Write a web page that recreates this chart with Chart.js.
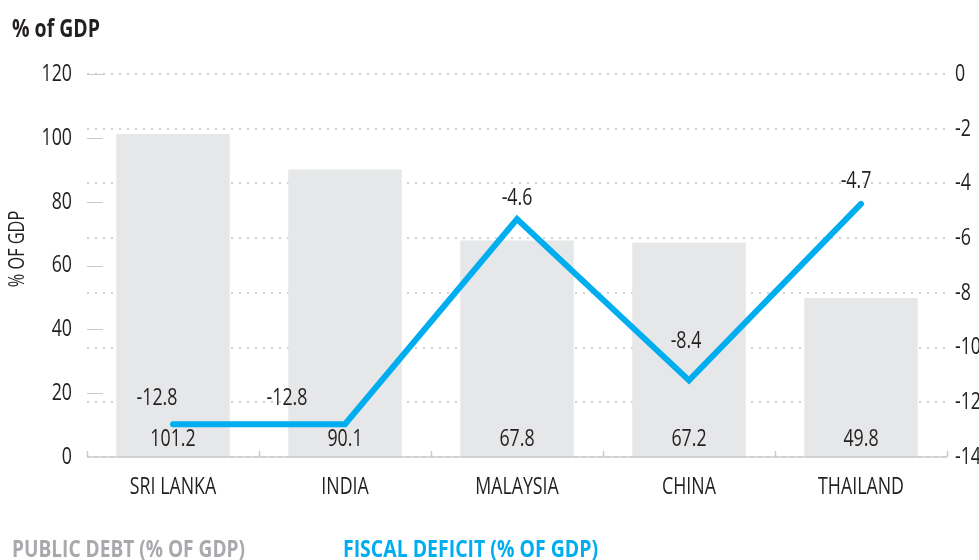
<!DOCTYPE html>
<html>
<head>
<meta charset="utf-8">
<script src="https://cdn.jsdelivr.net/npm/chart.js@4"></script>
<style>
  html, body { margin: 0; padding: 0; background: #fff; }
  #wrap { position: relative; width: 979px; height: 560px; }
</style>
</head>
<body>
<div id="wrap"><canvas id="chart" width="979" height="560"></canvas></div>
<script>
// Chart data
const countries = ["SRI LANKA", "INDIA", "MALAYSIA", "CHINA", "THAILAND"];
const publicDebt = [101.2, 90.1, 67.8, 67.2, 49.8];
// where the line is drawn in the picture, and the labels printed next to it
const fiscalDeficit = [-12.8, -12.8, -5.3, -11.2, -4.75];
const deficitLabels = ["-12.8", "-12.8", "-4.6", "-8.4", "-4.7"];
const debtTicks = [0, 20, 40, 60, 80, 100, 120];
const deficitTicks = [0, -2, -4, -6, -8, -10, -12, -14];

// label offsets from each line point (style, not data)
const labelDx = [-16, -58, 0, -3, -5];
const labelDy = [-26, -26, -21, -39, -23];

const FONT = "'Open Sans', 'Noto Sans', sans-serif";
const TEXT = "#231f20";
const BLUE = "#00aeef";
const GREY_BAR = "#e6e7e8";
const SQUEEZE = 0.74; // the original uses a condensed face

// draw text squeezed horizontally around its anchor
function squeezed(ctx, str, x, y, align, font, color) {
  ctx.save();
  ctx.font = font;
  ctx.fillStyle = color;
  ctx.textAlign = align;
  ctx.textBaseline = "middle";
  ctx.translate(x, y);
  ctx.scale(SQUEEZE, 1);
  ctx.fillText(str, 0, 0);
  ctx.restore();
}

const decor = {
  id: "decor",
  afterDraw(chart) {
    const ctx = chart.ctx;
    const area = chart.chartArea;
    const x = chart.scales.x;
    const y = chart.scales.y;
    const y1 = chart.scales.y1;
    const reg = "24px " + FONT;
    ctx.save();

    // x axis line with small upward ticks between categories
    ctx.strokeStyle = "#c9cacb";
    ctx.lineWidth = 1.5;
    ctx.beginPath();
    ctx.moveTo(area.left, area.bottom);
    ctx.lineTo(area.right, area.bottom);
    const step = (area.right - area.left) / countries.length;
    for (let i = 0; i <= countries.length; i++) {
      const px = Math.round(area.left + step * i) + 0.5;
      ctx.moveTo(px, area.bottom);
      ctx.lineTo(px, area.bottom - 6);
    }
    ctx.stroke();

    // short tick dashes for the left axis
    ctx.lineWidth = 1.2;
    ctx.beginPath();
    debtTicks.forEach(v => {
      if (v === 0) return;
      const py = Math.round(y.getPixelForValue(v)) + 0.5;
      ctx.moveTo(area.left, py);
      ctx.lineTo(area.left + 16, py);
    });
    ctx.stroke();

    // tick labels
    debtTicks.forEach(v => squeezed(ctx, String(v), area.left - 15, y.getPixelForValue(v), "right", reg, TEXT));
    deficitTicks.forEach(v => squeezed(ctx, String(v), area.right + 8, y1.getPixelForValue(v), "left", reg, TEXT));
    countries.forEach((c, i) => squeezed(ctx, c, x.getPixelForValue(i), area.bottom + 30, "center", reg, TEXT));

    // bar values near the base
    chart.getDatasetMeta(1).data.forEach((b, i) => {
      squeezed(ctx, publicDebt[i].toFixed(1), b.x, area.bottom - 18, "center", reg, TEXT);
    });

    // line labels
    chart.getDatasetMeta(0).data.forEach((p, i) => {
      squeezed(ctx, deficitLabels[i], p.x + labelDx[i], p.y + labelDy[i], "center", reg, TEXT);
    });

    // rotated axis title
    ctx.save();
    ctx.translate(18, 249);
    ctx.rotate(-Math.PI / 2);
    squeezed(ctx, "% OF GDP", 0, 0, "center", "22px " + FONT, TEXT);
    ctx.restore();

    // title and legend, fitted to the widths of the original
    ctx.textAlign = "left";
    ctx.textBaseline = "alphabetic";
    ctx.font = "bold 25px " + FONT;
    ctx.fillStyle = TEXT;
    ctx.fillText("% of GDP", 12, 37, 88);
    ctx.font = "bold 24px " + FONT;
    ctx.fillStyle = "#a7a9ac";
    ctx.fillText("PUBLIC DEBT (% OF GDP)", 12, 557, 233);
    ctx.fillStyle = BLUE;
    ctx.fillText("FISCAL DEFICIT (% OF GDP)", 343, 557, 255);

    ctx.restore();
  }
};

new Chart(document.getElementById("chart"), {
  data: {
    labels: countries,
    datasets: [
      {
        type: "line",
        label: "FISCAL DEFICIT (% OF GDP)",
        data: fiscalDeficit,
        yAxisID: "y1",
        borderColor: BLUE,
        borderWidth: 6,
        borderCapStyle: "round",
        borderJoinStyle: "miter",
        pointRadius: 0,
        tension: 0,
        fill: false,
        order: 0
      },
      {
        type: "bar",
        label: "PUBLIC DEBT (% OF GDP)",
        data: publicDebt,
        yAxisID: "y",
        backgroundColor: GREY_BAR,
        barPercentage: 0.66,
        categoryPercentage: 1,
        order: 1
      }
    ]
  },
  plugins: [decor],
  options: {
    responsive: false,
    animation: false,
    layout: { padding: { top: 74, left: 0, right: 0, bottom: 0 } },
    plugins: {
      legend: { display: false },
      tooltip: { enabled: false }
    },
    scales: {
      x: {
        grid: { display: false, drawTicks: false },
        border: { display: false },
        ticks: { display: false },
        afterFit(scale) { scale.height = 103; }
      },
      y: {
        position: "left",
        min: 0,
        max: 120,
        grid: { display: false, drawTicks: false },
        border: { display: false },
        ticks: { display: false },
        afterFit(scale) { scale.width = 87; }
      },
      y1: {
        position: "right",
        min: -14,
        max: 0,
        ticks: { display: false, stepSize: 2 },
        grid: {
          drawTicks: false,
          color: "#cfd1d2",
          lineWidth: 2
        },
        border: { display: false, dash: [2, 6] },
        afterFit(scale) { scale.width = 32; }
      }
    }
  }
});
</script>
</body>
</html>
